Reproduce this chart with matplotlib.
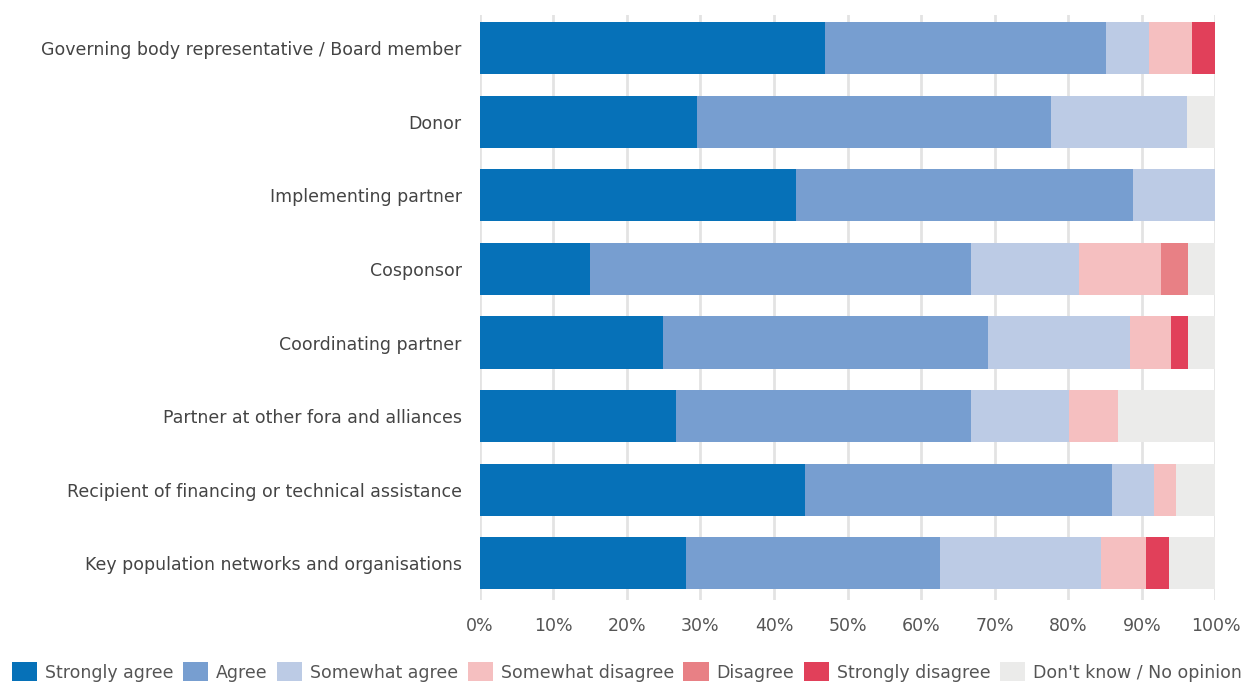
import matplotlib
matplotlib.use("Agg")
import matplotlib.pyplot as plt
import numpy as np

categories = [
    "Governing body representative / Board member",
    "Donor",
    "Implementing partner",
    "Cosponsor",
    "Coordinating partner",
    "Partner at other fora and alliances",
    "Recipient of financing or technical assistance",
    "Key population networks and organisations",
]
series_names = ["Strongly agree", "Agree", "Somewhat agree", "Somewhat disagree",
                "Disagree", "Strongly disagree", "Don't know / No opinion"]
strongly_agree    = [46.9, 29.6, 43.0, 15.0, 24.9, 26.7, 44.2, 28.0]
agree             = [38.2, 48.0, 45.8, 51.8, 44.2, 40.1, 41.8, 34.5]
somewhat_agree    = [5.9, 18.5, 11.2, 14.6, 19.3, 13.3, 5.7, 21.9]
somewhat_disagree = [5.8, 0.0, 0.0, 11.2, 5.6, 6.6, 3.0, 6.2]
disagree          = [0.0, 0.0, 0.0, 3.6, 0.0, 0.0, 0.0, 0.0]
strongly_disagree = [3.2, 0.0, 0.0, 0.0, 2.2, 0.0, 0.0, 3.1]
dont_know         = [0.0, 3.9, 0.0, 3.8, 3.8, 13.3, 5.3, 6.3]
colors = ["#0671b8", "#779ed0", "#bccbe5", "#f5bfc0", "#e88085", "#e1405a", "#ebebea"]

data = [strongly_agree, agree, somewhat_agree, somewhat_disagree,
        disagree, strongly_disagree, dont_know]

fig = plt.figure(figsize=(12.46, 6.85), dpi=100)
ax = fig.add_axes([0.385, 0.124, 0.5905, 0.854])
y = np.arange(len(categories))
left = np.zeros(len(categories))
handles = []
for name, vals, c in zip(series_names, data, colors):
    vals = np.array(vals)
    h = ax.barh(y, vals, left=left, height=0.71, color=c, label=name, zorder=2)
    handles.append(h)
    left += vals

ax.set_xlim(0, 100)
ax.set_ylim(7.5, -0.45)
ax.set_xticks(np.arange(0, 101, 10))
ax.set_xticklabels([f"{v}%" for v in range(0, 101, 10)], fontsize=12.5, color="#555555")
ax.set_yticks(y)
ax.set_yticklabels(categories, fontsize=12.5, color="#444444")
ax.tick_params(axis="x", length=0, pad=12)
ax.tick_params(axis="y", length=0, pad=13)
ax.grid(axis="x", color="#e3e3e3", linewidth=2, zorder=0)
for s in ax.spines.values():
    s.set_visible(False)

fig.legend(handles=handles, labels=series_names, loc="lower center",
           bbox_to_anchor=(0.503, -0.018), ncol=7, frameon=False, fontsize=12.5,
           handlelength=1.45, handleheight=1.3, columnspacing=0.55, handletextpad=0.45,
           labelcolor="#555555")
fig.savefig("out.png", dpi=100)
